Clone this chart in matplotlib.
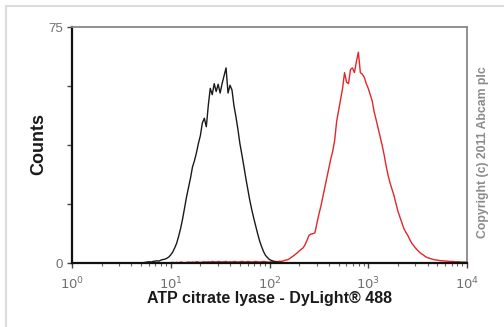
import numpy as np
import matplotlib
matplotlib.use("Agg")
import matplotlib.pyplot as plt
from matplotlib.patches import Rectangle
from matplotlib.ticker import FixedLocator, LogLocator, NullFormatter

plt.rcParams['font.family'] = ['Liberation Sans', 'DejaVu Sans']

# Channel positions (log10 of intensity), 0.02-decade bins
black_log_start = 0.70
red_log_start = 1.00
bin_step = 0.02

black_counts = [
    0, 0.1, 0.2, 0.3, 0.4, 0.3, 0.5, 0.6, 0.7, 0.6,
    0.9, 1.1, 1.2, 1.5, 1.9, 2.6, 3.5, 4.8, 6.3, 8.5,
    11.0, 14.0, 17.5, 21.0, 24.0, 27.0, 30.5, 32.5, 35.0, 38.0,
    40.5, 44.5, 46.0, 43.3, 50.0, 55.5, 53.5, 57.0, 54.5, 56.8,
    54.0, 57.0, 59.5, 62.0, 54.0, 56.5, 55.0, 50.0, 46.5, 42.5,
    38.0, 34.5, 30.8, 27.0, 23.5, 20.0, 17.0, 14.3, 11.8, 9.3,
    7.0, 5.2, 3.6, 2.4, 1.7, 1.1, 0.8, 0.6, 0.4, 0.3,
    0.2, 0.2, 0.1, 0.1, 0.0, 0.0,
]

red_counts = [
    # 10^1.00 .. 10^1.98
    0.1, 0.2, 0.1, 0.2, 0.1, 0.3, 0.2, 0.1, 0.2, 0.3,
    0.2, 0.3, 0.2, 0.4, 0.3, 0.2, 0.3, 0.4, 0.3, 0.4,
    0.3, 0.5, 0.4, 0.3, 0.5, 0.4, 0.3, 0.4, 0.5, 0.3,
    0.4, 0.3, 0.5, 0.4, 0.3, 0.4, 0.5, 0.4, 0.3, 0.5,
    0.4, 0.3, 0.4, 0.5, 0.4, 0.3, 0.4, 0.5, 0.4, 0.3,
    # 10^2.00 ..
    0.3, 0.4, 0.3, 0.5, 0.4, 0.6, 0.5, 0.7, 0.9, 1.0,
    1.3, 1.8, 2.2, 2.7, 3.2, 3.8, 4.3, 4.8, 5.8, 7.2,
    8.8, 9.2, 9.3, 9.6, 12.5, 15.5, 18.0, 21.0, 24.0, 27.0,
    30.0, 33.0, 35.5, 39.0, 45.0, 48.5, 52.0, 55.5, 60.5, 57.5,
    57.0, 61.5, 62.0, 60.5, 64.0, 67.0, 60.5, 60.0, 59.0, 57.0,
    55.5, 53.5, 51.5, 48.0, 45.5, 42.8, 40.0, 37.5, 34.5, 31.0,
    28.0, 25.5, 23.5, 21.5, 19.0, 16.5, 14.7, 13.0, 11.0, 9.8,
    8.8, 7.5, 6.3, 5.5, 4.7, 4.0, 3.4, 2.9, 2.5, 2.0,
    1.7, 1.5, 1.3, 1.1, 1.0, 0.9, 0.8, 0.7, 0.7, 0.6,
    0.6, 0.5, 0.5, 0.5, 0.4, 0.4, 0.4, 0.3, 0.3, 0.3,
    0.3,
]

x_ticks = [1, 10, 100, 1000, 10000]
x_tick_labels = [r'$10^{0}$', r'$10^{1}$', r'$10^{2}$', r'$10^{3}$', r'$10^{4}$']
y_ticks = [0, 18.75, 37.5, 56.25, 75]
y_tick_labels = ['0', '', '', '', '75']

black_x = 10 ** (black_log_start + bin_step * np.arange(len(black_counts)))
red_x = 10 ** (red_log_start + bin_step * np.arange(len(red_counts)))

fig = plt.figure(figsize=(5.04, 3.27), dpi=100)
fig.patches.append(Rectangle((6 / 504, -0.1), 2, 1 - 6 / 327 + 0.1,
                             transform=fig.transFigure, fill=False,
                             edgecolor='#dddddd', linewidth=1.5))

ax = fig.add_axes([72 / 504, 1 - 263 / 327, (467 - 72) / 504, (263 - 27) / 327])
ax.plot(red_x, red_counts, color='#e3262a', linewidth=1.0)
ax.plot(black_x, black_counts, color='#1a1a1a', linewidth=1.0)

ax.set_xscale('log')
ax.set_xlim(1, 10000)
ax.set_ylim(0, 75)

ax.xaxis.set_major_locator(FixedLocator(x_ticks))
ax.set_xticklabels(x_tick_labels)
ax.xaxis.set_minor_locator(LogLocator(base=10, subs=np.arange(2, 10)))
ax.xaxis.set_minor_formatter(NullFormatter())
ax.set_yticks(y_ticks)
ax.set_yticklabels(y_tick_labels)

for s in ['left', 'bottom']:
    ax.spines[s].set_color('#111111')
    ax.spines[s].set_linewidth(1.6)
for s in ['top', 'right']:
    ax.spines[s].set_color('#888888')
    ax.spines[s].set_linewidth(1.3)

ax.tick_params(axis='both', which='major', direction='out', length=3.5, width=1.0,
               color='#444444', labelcolor='#707070', labelsize=9.5, pad=3)
ax.tick_params(axis='x', which='minor', direction='out', length=2.2, width=0.8,
               color='#666666')
ax.tick_params(axis='x', which='major', pad=5.5)

ax.set_xlabel('ATP citrate lyase - DyLight® 488', fontsize=11.5, fontweight='bold',
              color='#1a1a1a')
ax.xaxis.set_label_coords(0.5, -(303 - 263) / 236)
ax.xaxis.label.set_va('baseline')
ax.set_ylabel('Counts', fontsize=13, fontweight='bold', color='#1a1a1a')
ax.yaxis.set_label_coords(-(72 - 47) / 395, (263 - 144) / 236)

fig.text(483 / 504, 1 - 152 / 327, 'Copyright (c) 2011 Abcam plc', rotation=90,
         fontsize=8.8, fontweight='bold', color='#8a8a8a', ha='center', va='center')

fig.savefig('out.png', dpi=100)
